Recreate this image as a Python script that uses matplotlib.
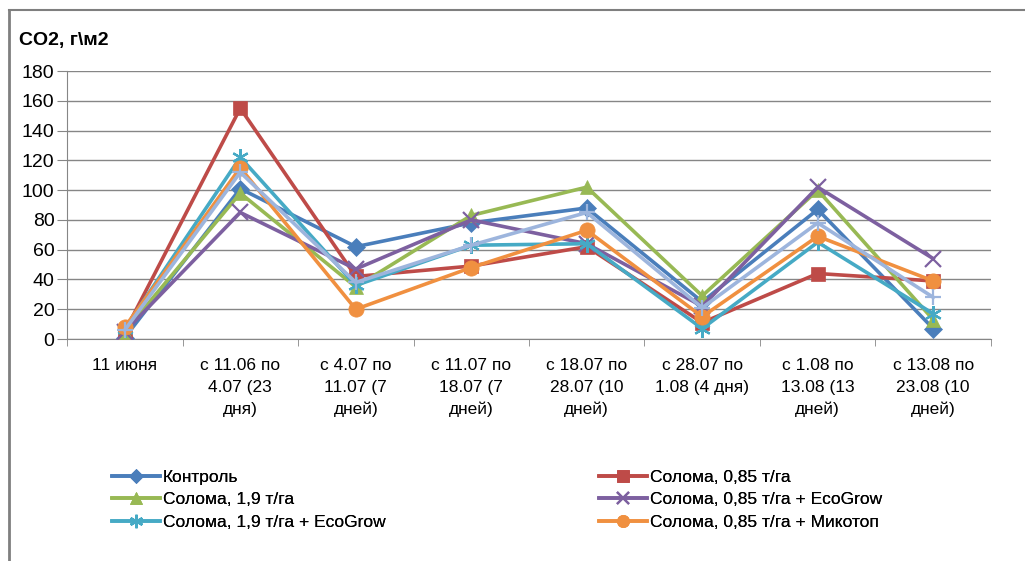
import matplotlib
matplotlib.use("Agg")
import matplotlib.pyplot as plt
from matplotlib.lines import Line2D

plt.rcParams['font.family'] = ['Liberation Sans', 'DejaVu Sans']

categories = [
    "11 июня",
    "с 11.06 по\n4.07 (23\nдня)",
    "с 4.07 по\n11.07 (7\nдней)",
    "с 11.07 по\n18.07 (7\nдней)",
    "с 18.07 по\n28.07 (10\nдней)",
    "с 28.07 по\n1.08 (4 дня)",
    "с 1.08 по\n13.08 (13\nдней)",
    "с 13.08 по\n23.08 (10\nдней)",
]

kontrol = [1, 101, 62, 78, 88, 25, 87, 7]
soloma_085 = [5, 155, 42, 49, 62, 11, 44, 39]
soloma_19 = [5, 98, 35, 83, 102, 29, 100, 13]
soloma_085_eco = [5, 85, 47, 80, 64, 22, 102, 54]
soloma_19_eco = [7, 122, 36, 63, 64, 7, 65, 17]
soloma_085_myco = [8, 115, 20, 48, 73, 15, 69, 39]
extra_series = [6, 112, 38, 63, 85, 21, 78, 28]

y_ticks = [0, 20, 40, 60, 80, 100, 120, 140, 160, 180]

series = [
    ("Контроль", kontrol, "#4A7EBB", "D", 9),
    ("Солома, 0,85 т/га", soloma_085, "#BE4B48", "s", 10),
    ("Солома, 1,9 т/га", soloma_19, "#98B954", "^", 10),
    ("Солома, 0,85 т/га + EcoGrow", soloma_085_eco, "#7D60A0", "x", 11),
    ("Солома, 1,9 т/га + EcoGrow", soloma_19_eco, "#46AAC5", (6, 2, 0), 12),
    ("Солома, 0,85 т/га + Микотоп", soloma_085_myco, "#F09040", "o", 11),
]

fig = plt.figure(figsize=(10.25, 5.61), dpi=100)
ax = fig.add_axes([0.0654, 0.3957, 0.9014, 0.4777])

x = list(range(len(categories)))
handles = {}
for name, vals, color, marker, ms in series:
    line, = ax.plot(x, vals, color=color, lw=2.6, marker=marker, markersize=ms,
                    markeredgewidth=1.6 if marker in ("x", (6, 2, 0)) else 0.5,
                    markeredgecolor=color, markerfacecolor=color, label=name,
                    zorder=3)
    handles[name] = line

# seventh series (not shown in the legend)
ax.plot(x, extra_series, color="#9DB5DD", lw=2.6, marker="+", markersize=12,
        markeredgewidth=1.6, zorder=3)

ax.set_xlim(-0.5, len(categories) - 0.5)
ax.set_ylim(0, 180)
ax.set_yticks(y_ticks)
ax.tick_params(axis='y', labelsize=14, length=7, color="#868686", pad=2)
ax.set_xticks(x)
ax.set_xticklabels(categories, fontsize=12.5, linespacing=1.55)
ax.tick_params(axis='x', length=0, pad=14)
ax.set_xticks([i - 0.5 for i in range(len(categories) + 1)], minor=True)
ax.tick_params(axis='x', which='minor', length=5, color="#868686")

ax.grid(axis='y', color="#868686", lw=1)
ax.set_axisbelow(True)
for side in ("top", "right"):
    ax.spines[side].set_visible(False)
for side in ("left", "bottom"):
    ax.spines[side].set_color("#868686")

fig.text(0.019, 0.928, "CO2, г\\м2", fontsize=14, fontweight="bold",
         va="center", ha="left")

# outer chart frame (left and top edges only visible)
fig.add_artist(Line2D([0.0088, 0.0088], [0, 0.982], transform=fig.transFigure,
                      color="#7F7F7F", lw=2))
fig.add_artist(Line2D([0.0088, 1.0], [0.982, 0.982], transform=fig.transFigure,
                      color="#7F7F7F", lw=1.5))

col1 = ["Контроль", "Солома, 1,9 т/га", "Солома, 1,9 т/га + EcoGrow"]
col2 = ["Солома, 0,85 т/га", "Солома, 0,85 т/га + EcoGrow", "Солома, 0,85 т/га + Микотоп"]
for names, xpos in ((col1, 0.109), (col2, 0.584)):
    leg = fig.legend([handles[n] for n in names], names, loc="upper left",
                     bbox_to_anchor=(xpos, 0.163),
                     frameon=False, fontsize=12.5, handlelength=2.8,
                     handletextpad=0.15, labelspacing=0.42, borderaxespad=0,
                     borderpad=0, markerscale=0.8)
    fig.add_artist(leg)

fig.savefig("out.png", dpi=100)
